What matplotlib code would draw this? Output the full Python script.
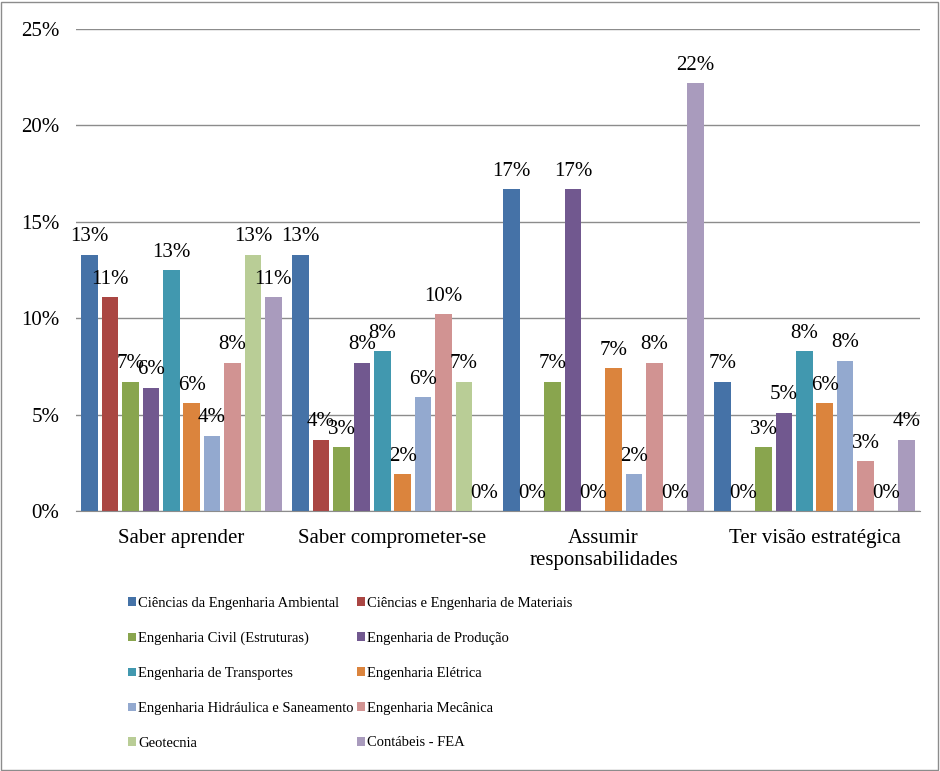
import numpy as np
import matplotlib
matplotlib.use("Agg")
import matplotlib.pyplot as plt
from matplotlib.ticker import PercentFormatter
from matplotlib.patches import Rectangle

plt.rcParams['font.family'] = ['Liberation Serif', 'DejaVu Serif']

categorias = ['Saber aprender', 'Saber comprometer-se',
              'Assumir\nresponsabilidades', 'Ter visão estratégica']

cursos = ['Ciências da Engenharia Ambiental',
          'Ciências e Engenharia de Materiais',
          'Engenharia Civil (Estruturas)',
          'Engenharia de Produção',
          'Engenharia de Transportes',
          'Engenharia Elétrica',
          'Engenharia Hidráulica e Saneamento',
          'Engenharia Mecânica',
          'Geotecnia',
          'Contábeis - FEA']

cores = ['#4572A7', '#AA4643', '#89A54E', '#71588F', '#4198AF',
         '#DB843D', '#93A9CF', '#D19392', '#B9CD96', '#A99BBD']

# percentuais por curso, na ordem das categorias
ambiental   = [13.3, 13.3, 16.7, 6.7]
materiais   = [11.1, 3.7, 0.0, 0.0]
civil       = [6.7, 3.3, 6.7, 3.3]
producao    = [6.4, 7.7, 16.7, 5.1]
transportes = [12.5, 8.3, 0.0, 8.3]
eletrica    = [5.6, 1.9, 7.4, 5.6]
hidraulica  = [3.9, 5.9, 1.9, 7.8]
mecanica    = [7.7, 10.2, 7.7, 2.6]
geotecnia   = [13.3, 6.7, 0.0, 0.0]
contabeis   = [11.1, 0.0, 22.2, 3.7]

series = [ambiental, materiais, civil, producao, transportes,
          eletrica, hidraulica, mecanica, geotecnia, contabeis]

fig = plt.figure(figsize=(9.4, 7.71), dpi=100)
W, H = 940.0, 771.0
ax = fig.add_axes([76 / W, 1 - 511 / H, 844 / W, (511 - 29) / H])

x = np.arange(len(categorias))
passo = 0.0967
largura = 0.078
barras = []
for j, (vals, nome, cor) in enumerate(zip(series, cursos, cores)):
    pos = x + (j - 4.5) * passo
    v = np.array(vals) / 100.0
    b = ax.bar(pos, v, width=largura, color=cor, label=nome, zorder=3)
    barras.append(b)
    for xp, val in zip(pos, vals):
        ax.annotate('%d%%' % int(val + 0.5), (xp, val / 100.0),
                    xytext=(0, 6), textcoords='offset points',
                    ha='center', va='bottom', fontsize=15, color='#000000',
                    zorder=4)

ax.set_xlim(-0.5, 3.5)
ax.set_ylim(0, 0.25)
ax.set_yticks(np.arange(0, 0.26, 0.05))
ax.yaxis.set_major_formatter(PercentFormatter(1.0, decimals=0))
ax.set_xticks(x)
ax.set_xticklabels(categorias, fontsize=15, linespacing=1.2)
ax.tick_params(axis='y', length=0, pad=12, labelsize=15)
ax.tick_params(axis='x', length=0, pad=13)
ax.grid(axis='y', color='#8C8C8C', linewidth=1, zorder=0)
for s in ['top', 'right', 'left']:
    ax.spines[s].set_visible(False)
ax.spines['bottom'].set_color('#8C8C8C')
ax.spines['bottom'].set_zorder(5)

# legenda preenchida por linhas (duas colunas)
ordem = [0, 2, 4, 6, 8, 1, 3, 5, 7, 9]
fig.legend([barras[k] for k in ordem], [cursos[k] for k in ordem],
           loc='upper left', bbox_to_anchor=(128 / W, 1 - 597 / H),
           ncol=2, frameon=False, fontsize=10.5, handlelength=0.55,
           handleheight=0.55, handletextpad=0.15, labelspacing=1.5,
           columnspacing=0.2, borderpad=0, borderaxespad=0)

fig.patches.append(Rectangle((1 / W, 1 / H), 937 / W, 768 / H,
                             transform=fig.transFigure, fill=False,
                             edgecolor='#8C8C8C', linewidth=1))

fig.savefig('out.png', dpi=100, facecolor='white')
